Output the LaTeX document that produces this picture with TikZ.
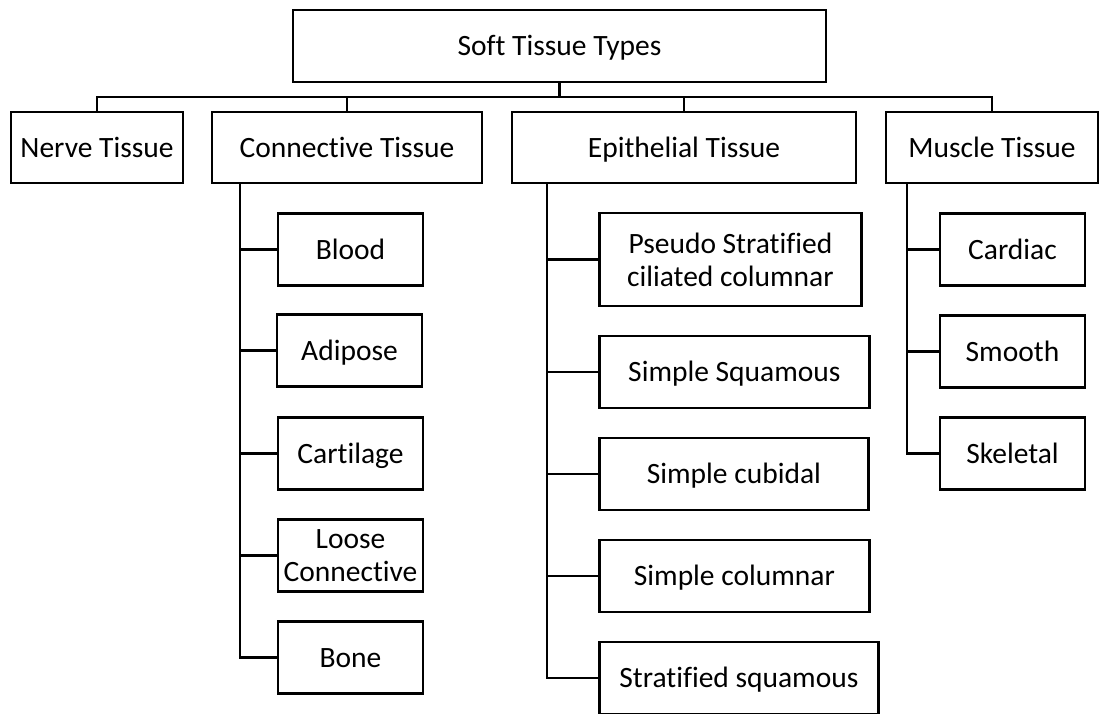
\documentclass[tikz,border=0pt]{standalone}
\usepackage{fontspec}
\setmainfont{Carlito}[Ligatures=NoCommon]
\tikzset{
	box/.style={draw, line width=2.8pt, align=center, inner sep=0pt, font=\fontsize{29.5}{33}\selectfont},
	oneline/.style={text height=19pt, text depth=0pt},
	group/.style={box, oneline, minimum height=71pt},
	leaf/.style={box, minimum width=145pt, minimum height=72pt},
	eleaf/.style={box, anchor=west, minimum height=72pt},
	link/.style={line width=2.8pt}
}
\begin{document}
\begin{tikzpicture}[x=1pt,y=-1pt]
	\useasboundingbox (0,0) rectangle (1102,713);
	
	\node[box, oneline, minimum width=533pt, minimum height=72pt] (soft) at (559.5,46) {Soft Tissue Types};
	
	\node[group, minimum width=172pt] (nerve) at (97,147.5) {Nerve Tissue};
	\node[group, minimum width=270pt] (conn) at (347,147.5) {Connective Tissue};
	\node[group, minimum width=344pt] (epi) at (684,147.5) {Epithelial Tissue};
	\node[group, minimum width=212pt] (muscle) at (992,147.5) {Muscle Tissue};
	
	% connective
	\node[leaf, oneline] (blood) at (350.5,249.5) {Blood};
	\node[leaf, oneline] (adipose) at (349.5,350.5) {Adipose};
	\node[leaf, oneline] (cartilage) at (350.5,453.5) {Cartilage};
	\node[leaf] (loose) at (350.5,555.5) {Loose\\Connective};
	\node[leaf, oneline] (bone) at (350.5,657.5) {Bone};
	
	% epithelial
	\node[eleaf, minimum width=262pt, minimum height=93pt] (pseudo) at (598,259.5) {Pseudo Stratified\\ciliated columnar};
	\node[eleaf, oneline, minimum width=270pt] (squamous) at (598,372) {Simple Squamous};
	\node[eleaf, oneline, minimum width=269pt] (cubidal) at (598,474) {Simple cubidal};
	\node[eleaf, oneline, minimum width=270pt] (columnar) at (598,576) {Simple columnar};
	\node[eleaf, oneline, minimum width=279pt] (stratified) at (598,678) {Stratified squamous};
	
	% muscle
	\node[leaf, oneline] (cardiac) at (1012.5,249.5) {Cardiac};
	\node[leaf, oneline] (smooth) at (1012.5,351.5) {Smooth};
	\node[leaf, oneline] (skeletal) at (1012.5,453.5) {Skeletal};
	
	\coordinate (bus) at (0,97);
	\coordinate (ctrunk) at (240,0);
	\coordinate (etrunk) at (547,0);
	\coordinate (mtrunk) at (907,0);
	
	\draw[link] (soft.south) -- (soft.south |- bus);
	\draw[link] (nerve.north) -- (nerve.north |- bus) -- (muscle.north |- bus) -- (muscle.north);
	\draw[link] (conn.north) -- (conn.north |- bus);
	\draw[link] (epi.north) -- (epi.north |- bus);
	
	\draw[link] (ctrunk |- conn.south) |- (bone.west);
	\draw[link] (ctrunk |- blood.west) -- (blood.west);
	\draw[link] (ctrunk |- adipose.west) -- (adipose.west);
	\draw[link] (ctrunk |- cartilage.west) -- (cartilage.west);
	\draw[link] (ctrunk |- loose.west) -- (loose.west);
	
	\draw[link] (etrunk |- epi.south) |- (stratified.west);
	\draw[link] (etrunk |- pseudo.west) -- (pseudo.west);
	\draw[link] (etrunk |- squamous.west) -- (squamous.west);
	\draw[link] (etrunk |- cubidal.west) -- (cubidal.west);
	\draw[link] (etrunk |- columnar.west) -- (columnar.west);
	
	\draw[link] (mtrunk |- muscle.south) |- (skeletal.west);
	\draw[link] (mtrunk |- cardiac.west) -- (cardiac.west);
	\draw[link] (mtrunk |- smooth.west) -- (smooth.west);
\end{tikzpicture}
\end{document}
